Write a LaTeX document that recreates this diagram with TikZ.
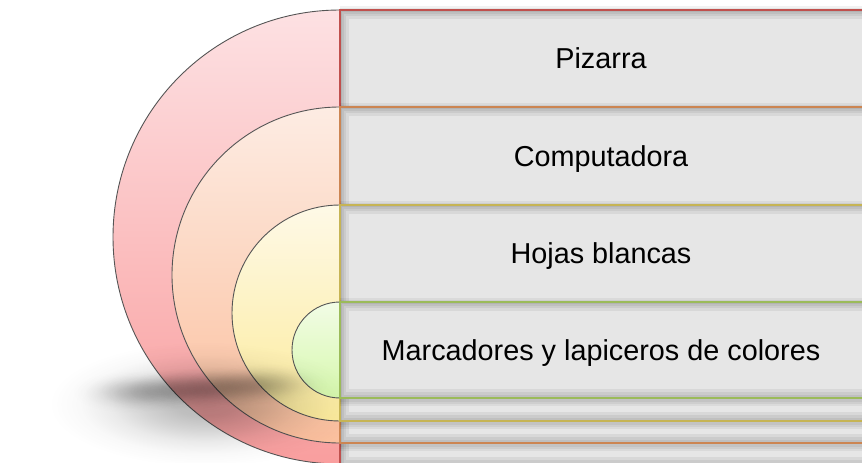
\documentclass[tikz,border=0pt]{standalone}
\usepackage{fontspec}
\setmainfont{Liberation Sans}
\usetikzlibrary{fadings}
\definecolor{redB}{HTML}{C0504D}
\definecolor{oraB}{HTML}{CC8552}
\definecolor{yelB}{HTML}{C6B454}
\definecolor{greB}{HTML}{9BBB59}
\definecolor{redT}{HTML}{FDE1E3}
\definecolor{redD}{HTML}{F99E9E}
\definecolor{oraT}{HTML}{FDECE3}
\definecolor{oraD}{HTML}{FBBF9D}
\definecolor{yelT}{HTML}{FEF9E7}
\definecolor{yelD}{HTML}{FCEB9C}
\definecolor{greT}{HTML}{F2FCE6}
\definecolor{greD}{HTML}{D6F8AC}
\definecolor{bandfill}{HTML}{E6E6E6}
\definecolor{ringline}{HTML}{555555}
\pgfdeclareradialshading{gaussshade}{\pgfpointorigin}{%
  color(0bp)=(white); color(5bp)=(white!90!black); color(10bp)=(white!62!black);
  color(15bp)=(white!30!black); color(20bp)=(white!9!black); color(25bp)=(black); color(50bp)=(black)}
\pgfdeclarefading{gaussfade}{\pgfuseshading{gaussshade}}
\newcommand\halfdisc[4]{% cy, r, top colour, bottom colour
  \shade[top color=#3, bottom color=#4] (340,#1) ++(0,#2) arc[start angle=90, end angle=270, radius=#2] -- cycle;
  \draw[ringline, line width=0.9pt] (340,#1) ++(0,#2) arc[start angle=90, end angle=270, radius=#2];
}
\newcommand\bandrect[3]{% top, bottom, border colour
  \begin{scope}
    \clip (340,0) rectangle (880,470);
    \foreach \w in {12,8,4}
      \draw[black, opacity=0.05, line width=\w pt] (340,#1+2) rectangle (880,#2+2);
  \end{scope}
  \fill[bandfill] (340,#1) rectangle (880,#2);
  \begin{scope}
    \clip (340,#1) rectangle (880,#2);
    \foreach \w in {18,12,7,3}
      \draw[black, opacity=0.06, line width=\w pt] (340,#1) rectangle (880,#2);
  \end{scope}
  \draw[#3, line width=2.6pt] (340,#1) rectangle (880,#2);
}
\begin{document}
\begin{tikzpicture}[x=1pt, y=-1pt,
  lbl/.style={font=\fontsize{28.8}{34}\selectfont, inner sep=0pt, text height=20.6pt, text depth=0pt, text=black}]
\useasboundingbox (0,0) rectangle (862,463);
\fill[white] (0,0) rectangle (862,463);
\begin{scope}
  \clip (0,0) rectangle (862,463);
  % semicircles
  \halfdisc{237}{227}{redT}{redD}
  \halfdisc{275}{168}{oraT}{oraD}
  \halfdisc{313}{108}{yelT}{yelD}
  \halfdisc{350}{48}{greT}{greD}
  % soft shadow under the shape
  \begin{scope}
    \clip (0,0) rectangle (340,463);
    \fill[black, opacity=0.28, path fading=gaussfade] (205,404) ellipse [x radius=155, y radius=62];
    \foreach \cx in {130,158,186,214,242,270}
      \fill[black, opacity=0.15, path fading=gaussfade] (\cx,{392-0.06*(\cx-130)}) ellipse [x radius=58, y radius=21];
  \end{scope}
  % bands
  \bandrect{10}{466}{redB}
  \bandrect{107}{443}{oraB}
  \bandrect{205}{421}{yelB}
  \bandrect{302}{398}{greB}
\end{scope}
\node[lbl] (t1) at (601,58.5) {Pizarra};
\node[lbl] (t2) at (601,156) {Computadora};
\node[lbl] (t3) at (601,253.5) {Hojas blancas};
\node[lbl] (t4) at (601,350) {Marcadores y lapiceros de colores};
\end{tikzpicture}
\end{document}
